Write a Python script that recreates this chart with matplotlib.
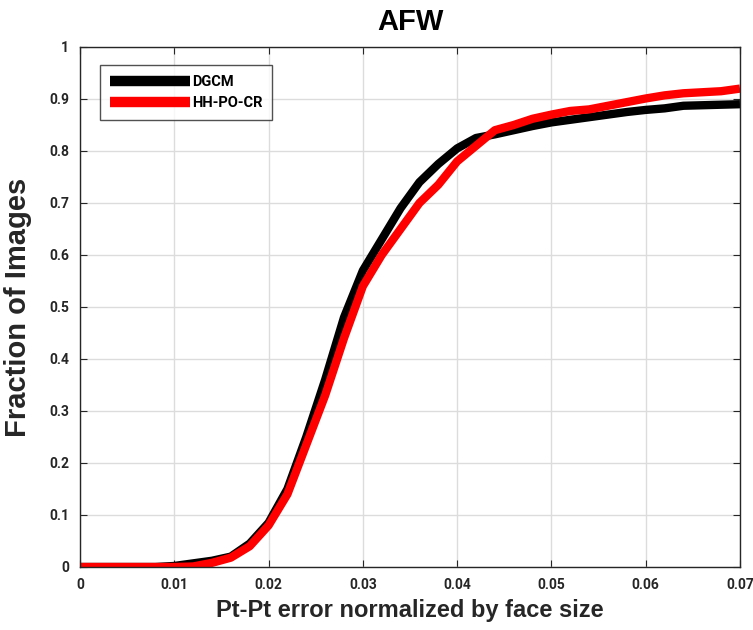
import matplotlib
matplotlib.use("Agg")
import matplotlib.pyplot as plt
import numpy as np

x_err = [0.0, 0.002, 0.004, 0.006, 0.008, 0.010, 0.012, 0.014, 0.016, 0.018, 0.020,
         0.022, 0.024, 0.026, 0.028, 0.030, 0.032, 0.034, 0.036, 0.038, 0.040,
         0.042, 0.044, 0.046, 0.048, 0.050, 0.052, 0.054, 0.056, 0.058, 0.060,
         0.062, 0.064, 0.066, 0.068, 0.070]
dgcm = [0, 0, 0, 0, 0, 0.002, 0.007, 0.012, 0.02, 0.045, 0.085,
        0.15, 0.25, 0.36, 0.48, 0.57, 0.63, 0.69, 0.74, 0.775, 0.805,
        0.825, 0.832, 0.84, 0.848, 0.855, 0.86, 0.865, 0.87, 0.875, 0.879,
        0.882, 0.887, 0.888, 0.889, 0.89]
hhpocr = [0, 0, 0, 0, 0, 0, 0.001, 0.008, 0.018, 0.04, 0.08,
          0.14, 0.235, 0.33, 0.44, 0.54, 0.6, 0.65, 0.7, 0.735, 0.78,
          0.81, 0.84, 0.85, 0.862, 0.87, 0.877, 0.88, 0.887, 0.894, 0.901,
          0.907, 0.911, 0.913, 0.915, 0.92]
series_names = ["DGCM", "HH-PO-CR"]
xticks = [0, 0.01, 0.02, 0.03, 0.04, 0.05, 0.06, 0.07]
xticklabels = ["0", "0.01", "0.02", "0.03", "0.04", "0.05", "0.06", "0.07"]
yticks = [0, 0.1, 0.2, 0.3, 0.4, 0.5, 0.6, 0.7, 0.8, 0.9, 1.0]
yticklabels = ["0", "0.1", "0.2", "0.3", "0.4", "0.5", "0.6", "0.7", "0.8", "0.9", "1"]

main_font = ["Liberation Sans", "DejaVu Sans"]
tick_font = ["Roboto", "Liberation Sans", "DejaVu Sans"]

fig = plt.figure(figsize=(7.53, 6.3), dpi=100)
ax = fig.add_axes([80/753, 63/630, 660/753, 520/630])

ax.plot(x_err, dgcm, color="black", lw=6, label=series_names[0], solid_capstyle="butt")
ax.plot(x_err, hhpocr, color="#ff0000", lw=6, label=series_names[1], solid_capstyle="butt")

ax.set_xlim(0, 0.07)
ax.set_ylim(0, 1)
ax.set_xticks(xticks)
ax.set_xticklabels(xticklabels)
ax.set_yticks(yticks)
ax.set_yticklabels(yticklabels)
ax.grid(True, color="#dcdcdc", lw=1)
ax.set_axisbelow(True)
ax.tick_params(direction="in", length=5, top=True, right=True, colors="#262626",
               labelsize=10, pad=8)
for lab in ax.get_xticklabels() + ax.get_yticklabels():
    lab.set_family(tick_font)
    lab.set_fontweight("bold")
for s in ax.spines.values():
    s.set_color("#262626")
    s.set_linewidth(1)

ax.set_xlabel("Pt-Pt error normalized by face size", fontsize=17, fontweight="bold",
              family=main_font, color="#262626", labelpad=5)
ax.set_ylabel("Fraction of Images", fontsize=21, fontweight="bold",
              family=main_font, color="#262626", labelpad=12)
ax.set_title("AFW", fontsize=21, fontweight="bold", family=main_font, pad=12)

leg = ax.legend(loc="upper left", bbox_to_anchor=(0.03, 0.965), borderaxespad=0,
                fancybox=False, frameon=True, handlelength=5.5, handletextpad=0.1,
                borderpad=0.7, labelspacing=0.45,
                prop={"family": tick_font, "weight": "bold", "size": 10.5})
leg.get_frame().set_edgecolor("#262626")
leg.get_frame().set_linewidth(1)
for h in leg.get_lines():
    h.set_linewidth(7.5)

fig.savefig("out.png", dpi=100)
